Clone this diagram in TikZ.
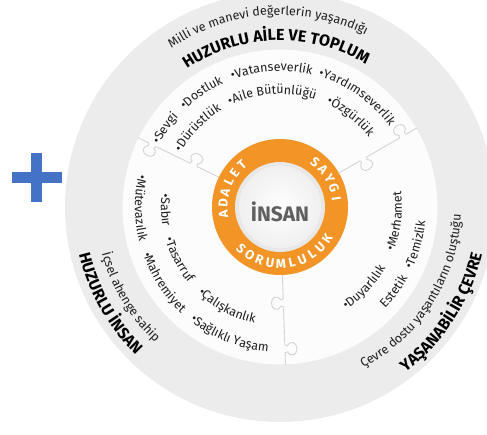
\documentclass[tikz,border=0pt]{standalone}
\usepackage{fontspec}
\setmainfont{Fira Sans}
\usetikzlibrary{decorations.text}
\definecolor{bandgray}{RGB}{236,236,236}
\definecolor{diskwhite}{RGB}{252,252,252}
\definecolor{ringorange}{RGB}{242,148,38}
\definecolor{plusblue}{RGB}{68,114,196}
\definecolor{cutgray}{RGB}{212,212,212}
\definecolor{textdark}{RGB}{30,30,30}
\newcommand{\wordfont}{\fontsize{12.5}{15}\selectfont\color{textdark}}
\newcommand{\headfont}{\fontsize{16}{18}\selectfont\bfseries\color{black}}
% text on an arc, letters standing outward
\newcommand{\outtext}[4]{%
  \path[decorate,decoration={text along path,text={|#3|#4},text align=center}]
    (#2+85:#1) arc[start angle=#2+85,end angle=#2-85,radius=#1];}
% text on an arc, letters standing inward
\newcommand{\intext}[4]{%
  \path[decorate,decoration={text along path,text={|#3|#4},text align=center}]
    (#2-85:#1) arc[start angle=#2-85,end angle=#2+85,radius=#1];}
% jigsaw cut along a ray
\newcommand{\jigsaw}[1]{%
  \begin{scope}[rotate=#1]
    \draw[cutline] (68,0) -- (92,0) -- (93,-2.5) .. controls (87,-6) and (90,-12) .. (96,-12)
      .. controls (102,-12) and (105,-6) .. (99,-2.5) -- (100,0) -- (138,0) -- (139,2.5)
      .. controls (133,6) and (136,12) .. (142,12) .. controls (148,12) and (151,6) .. (145,2.5)
      -- (146,0) -- (158,0);
  \end{scope}}
\begin{document}
\begin{tikzpicture}[x=1pt,y=1pt,
    cutline/.style={draw=cutgray,line width=0.9pt,line join=round},
    ringletter/.style={text=white,font=\fontsize{13}{15}\selectfont\bfseries,inner sep=0pt}]
  \useasboundingbox (-280,-227) rectangle (207,207);
  \clip (-280,-227) rectangle (207,207);
  % blue plus
  \fill[plusblue] (-268,24.5) rectangle (-218,35.5);
  \fill[plusblue] (-248.5,5) rectangle (-237.5,54);
  % discs
  \fill[bandgray] (0,0) circle[radius=215];
  \fill[diskwhite] (0,0) circle[radius=158];
  \draw[gray!15,line width=1pt] (0,0) circle[radius=158];
  \jigsaw{154}
  \jigsaw{30}
  \jigsaw{272}
  % centre
  \fill[ringorange] (0,0) circle[radius=68];
  \fill[gray!18] (0,0) circle[radius=45];
  \shade[inner color=white,outer color=gray!12] (0,0) circle[radius=41];
  \node[font=\fontsize{21}{23}\selectfont\bfseries,text=gray!75!black] (insan) at (0,-5) {İNSAN};
  \foreach \ch [count=\i] in {A,D,A,L,E,T}
    \node[ringletter,rotate={187-11*(\i-1)-90}] (adalet\i) at ({187-11*(\i-1)}:57) {\ch};
  \foreach \ch [count=\i] in {S,A,Y,G,I}
    \node[ringletter,rotate={52-11*(\i-1)-90}] (saygi\i) at ({52-11*(\i-1)}:57) {\ch};
  \foreach \ch [count=\i] in {S,O,R,U,M,L,U,L,U,K}
    \node[ringletter,rotate={227+11*(\i-1)+90}] (sorum\i) at ({227+11*(\i-1)}:57) {\ch};
  % top sector
  \outtext{136}{145.5}{\wordfont}{•Sevgi}
  \outtext{136}{124.5}{\wordfont}{•Dostluk}
  \outtext{136}{93.5}{\wordfont}{•Vatanseverlik}
  \outtext{136}{55}{\wordfont}{•Yardımseverlik}
  \outtext{113}{136}{\wordfont}{•Dürüstlük}
  \outtext{113}{94}{\wordfont}{•Aile Bütünlüğü}
  \outtext{113}{52}{\wordfont}{•Özgürlük}
  \outtext{192}{94}{\wordfont}{Milli ve manevi değerlerin yaşandığı}
  \outtext{166.5}{91.5}{\headfont}{HUZURLU AİLE VE TOPLUM}
  % left sector
  \intext{145}{180.5}{\wordfont}{•Mütevazılık}
  \intext{145}{213}{\wordfont}{•Mahremiyet}
  \intext{145}{248.5}{\wordfont}{•Sağlıklı Yaşam}
  \intext{119}{181.5}{\wordfont}{•Sabır}
  \intext{119}{207.5}{\wordfont}{•Tasarruf}
  \intext{119}{242}{\wordfont}{•Çalışkanlık}
  \intext{184}{211}{\wordfont}{İçsel ahenge sahip}
  \intext{206.5}{209.5}{\headfont}{HUZURLU İNSAN}
  % right sector
  \intext{122}{-43.5}{\wordfont}{•Duyarlılık}
  \intext{122}{-7}{\wordfont}{•Merhamet}
  \intext{146}{-36.5}{\wordfont}{Estetik}
  \intext{146}{-15.5}{\wordfont}{•Temizlik}
  \intext{181}{-32.5}{\wordfont}{Çevre dostu yaşantıların oluştuğu}
  \intext{207.5}{-33}{\headfont}{YAŞANABİLİR ÇEVRE}
\end{tikzpicture}
\end{document}
